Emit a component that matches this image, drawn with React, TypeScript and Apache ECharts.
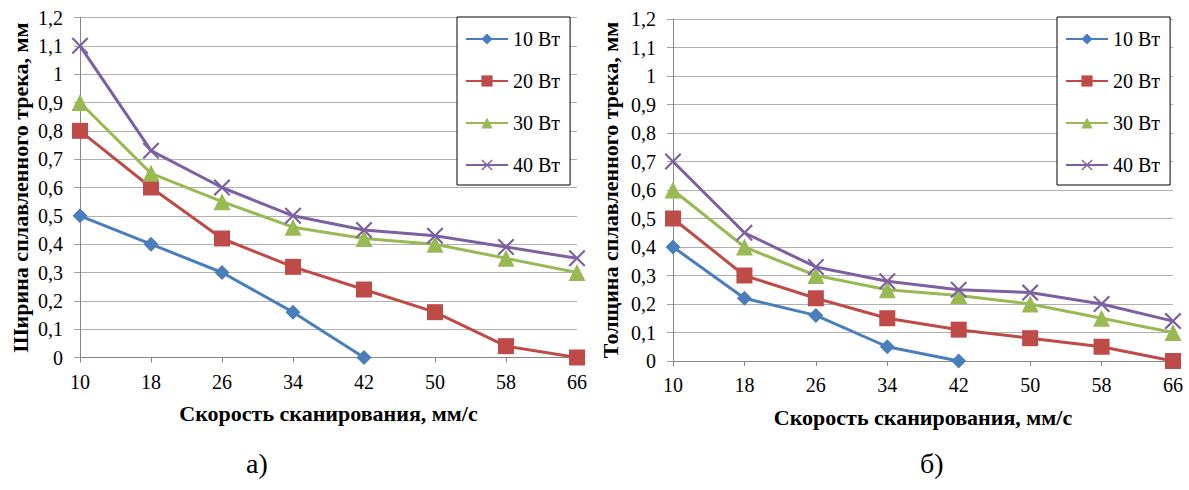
import React, { useEffect, useRef } from "react";
import * as echarts from "echarts";

const categories = ["10", "18", "26", "34", "42", "50", "58", "66"];
const seriesNames = ["10 Вт", "20 Вт", "30 Вт", "40 Вт"];
const yTickLabels = ["0", "0,1", "0,2", "0,3", "0,4", "0,5", "0,6", "0,7", "0,8", "0,9", "1", "1,1", "1,2"];

// а) Ширина сплавленного трека, мм
const width10 = [0.5, 0.4, 0.3, 0.16, 0.0, null, null, null];
const width20 = [0.8, 0.6, 0.42, 0.32, 0.24, 0.16, 0.04, 0.0];
const width30 = [0.9, 0.65, 0.55, 0.46, 0.42, 0.4, 0.35, 0.3];
const width40 = [1.1, 0.73, 0.6, 0.5, 0.45, 0.43, 0.39, 0.35];

// б) Толщина сплавленного трека, мм
const thick10 = [0.4, 0.22, 0.16, 0.05, 0.0, null, null, null];
const thick20 = [0.5, 0.3, 0.22, 0.15, 0.11, 0.08, 0.05, 0.0];
const thick30 = [0.6, 0.4, 0.3, 0.25, 0.23, 0.2, 0.15, 0.1];
const thick40 = [0.7, 0.45, 0.33, 0.28, 0.25, 0.24, 0.2, 0.14];

const xTitle = "Скорость сканирования, мм/с";
const yTitleA = "Ширина сплавленного трека, мм";
const yTitleB = "Толщина сплавленного трека, мм";
const panelA = "а)";
const panelB = "б)";

const FONT = "Liberation Serif";
const colors = ["#4a7ebb", "#be4b48", "#98b954", "#7d60a0"];
const crossPath =
  "path://M0,0.9 L0.9,0 L5,4.1 L9.1,0 L10,0.9 L5.9,5 L10,9.1 L9.1,10 L5,5.9 L0.9,10 L0,9.1 L4.1,5 Z";
const symbols = ["diamond", "rect", "triangle", crossPath];
const symbolSizes = [15, 16, 17, 17];

export default function App() {
  const ref = useRef<HTMLDivElement>(null);
  useEffect(() => {
    if (!ref.current) return;
    const chart = echarts.init(ref.current, undefined, { renderer: "svg" });
    const grids = [
      { left: 80, top: 17.5, width: 497, height: 340, outerBoundsMode: "none", containLabel: false },
      { left: 673, top: 19, width: 500, height: 342, outerBoundsMode: "none", containLabel: false },
    ];
    const makeX = (gi: number) => ({
      type: "category",
      gridIndex: gi,
      data: categories,
      boundaryGap: false,
      name: xTitle,
      nameLocation: "middle",
      nameGap: 45,
      nameTextStyle: { fontFamily: FONT, fontSize: 22, fontWeight: "bold", color: "#000" },
      axisLine: { lineStyle: { color: "#868686", width: 1 } },
      axisTick: { show: true, length: 5, lineStyle: { color: "#868686" }, alignWithLabel: true },
      axisLabel: { fontFamily: FONT, fontSize: 20, color: "#000", margin: 14 },
      splitLine: { show: false },
    });
    const makeY = (gi: number, title: string, gap: number) => ({
      type: "value",
      gridIndex: gi,
      min: 0,
      max: 1.2,
      interval: 0.1,
      name: title,
      nameLocation: "middle",
      nameGap: gap,
      nameTextStyle: { fontFamily: FONT, fontSize: 22, fontWeight: "bold", color: "#000" },
      axisLine: { show: true, lineStyle: { color: "#868686", width: 1 } },
      axisTick: { show: true, length: 6, lineStyle: { color: "#a0a0a0" } },
      axisLabel: {
        fontFamily: FONT,
        fontSize: 20,
        color: "#000",
        margin: 17,
        formatter: (v: number) => yTickLabels[Math.round(v * 10)] ?? "",
      },
      splitLine: { show: true, lineStyle: { color: "#b0b0b0", width: 1 } },
    });
    const dataA = [width10, width20, width30, width40];
    const dataB = [thick10, thick20, thick30, thick40];
    const series: any[] = [];
    [dataA, dataB].forEach((set, gi) => {
      set.forEach((d, i) => {
        series.push({
          type: "line",
          name: seriesNames[i],
          xAxisIndex: gi,
          yAxisIndex: gi,
          data: d,
          symbol: symbols[i],
          symbolSize: symbolSizes[i],
          showAllSymbol: true,
          connectNulls: false,
          lineStyle: { color: colors[i], width: 3 },
          itemStyle: { color: colors[i] },
          z: 2 + i,
        });
      });
    });
    const makeLegend = (left: number) => ({
      orient: "vertical",
      left,
      top: 17,
      data: seriesNames,
      itemWidth: 42,
      itemHeight: 14,
      itemGap: 22,
      padding: [12, 10, 10, 8],
      borderColor: "#000",
      borderWidth: 1,
      backgroundColor: "#fff",
      selectedMode: false,
      textStyle: { fontFamily: FONT, fontSize: 20, color: "#000" },
    });
    chart.setOption({
      animation: false,
      backgroundColor: "#fff",
      textStyle: { fontFamily: FONT },
      grid: grids,
      xAxis: [makeX(0), makeX(1)],
      yAxis: [makeY(0, yTitleA, 49), makeY(1, yTitleB, 52)],
      legend: [makeLegend(457), makeLegend(1057)],
      series,
      graphic: [
        { type: "text", left: 246, top: 449, style: { text: panelA, font: "28px Liberation Serif", fill: "#000" } },
        { type: "text", left: 920, top: 449, style: { text: panelB, font: "28px Liberation Serif", fill: "#000" } },
      ],
    });
    return () => chart.dispose();
  }, []);
  return (
    <div
      ref={ref}
      style={{ position: "fixed", left: 0, top: 0, width: 1189, height: 490, background: "#fff" }}
    />
  );
}
